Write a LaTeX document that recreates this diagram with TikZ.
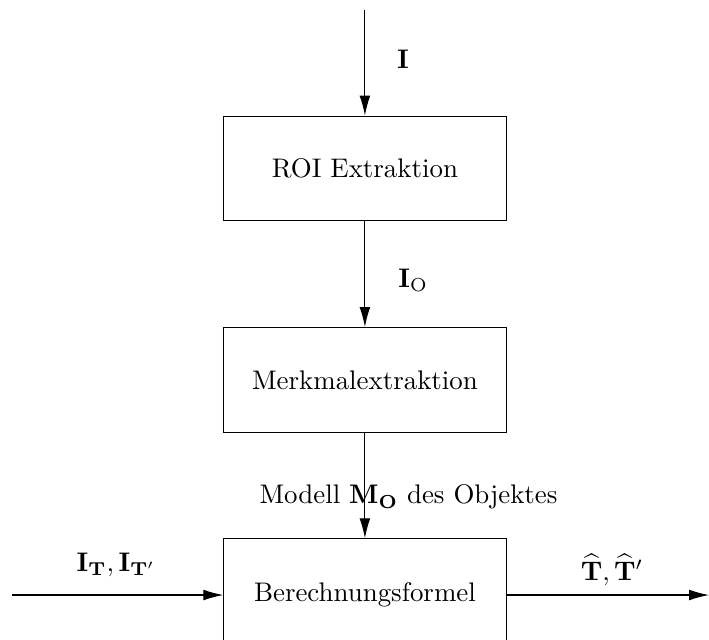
\documentclass[tikz,border=0pt]{standalone}
\usetikzlibrary{arrows.meta}

\tikzset{
  block/.style={draw, minimum width=3.69cm, minimum height=1.37cm},
  flow/.style={-{Latex[length=2.6mm,width=1.4mm]}},
  lbl/.style={anchor=base, inner sep=0pt}
}

\begin{document}
\begin{tikzpicture}
				\useasboundingbox (0,0) rectangle (9.268,8.353);
				\clip (0,0) rectangle (9.268,8.353);
				
				% Bloecke
				\coordinate (eingang) at (4.77,8.222);
				\node[block] (roi) at (4.77,6.15) {ROI Extraktion};
				\node[block] (merkmal) at (4.77,3.386) {Merkmalextraktion};
				\node[block, minimum height=1.47cm] (formel) at (4.77,0.575) {Berechnungsformel};
				\coordinate (links) at (0.157,0.575);
				\coordinate (rechts) at (9.268,0.575);
				
				% Pfeile
				\draw[flow] (eingang) -- (roi);
				\draw[flow] (roi) -- (merkmal);
				\draw[flow] (merkmal) -- (formel);
				\draw[flow] (links) -- (formel);
				\draw[flow] (formel) -- (rechts);
				
				% Beschriftungen
				\node[lbl] (bild) at (5.268,7.464) {$\mathbf{I}$};
				\node[lbl] (objekt) at (5.40,4.601) {$\mathbf{I}_\mathrm{O}$};
				\node[lbl] (modell) at (5.34,1.765) {Modell $\mathbf{M_O}$ des Objektes};
				\node[lbl] (vorlagen) at (1.52,0.889) {$\mathbf{I_T},\mathbf{I_{T'}}$};
				\node[lbl] (schaetzung) at (8.0,0.771) {$\widehat{\mathbf{T}},\widehat{\mathbf{T}}'$};
\end{tikzpicture}
\end{document}
